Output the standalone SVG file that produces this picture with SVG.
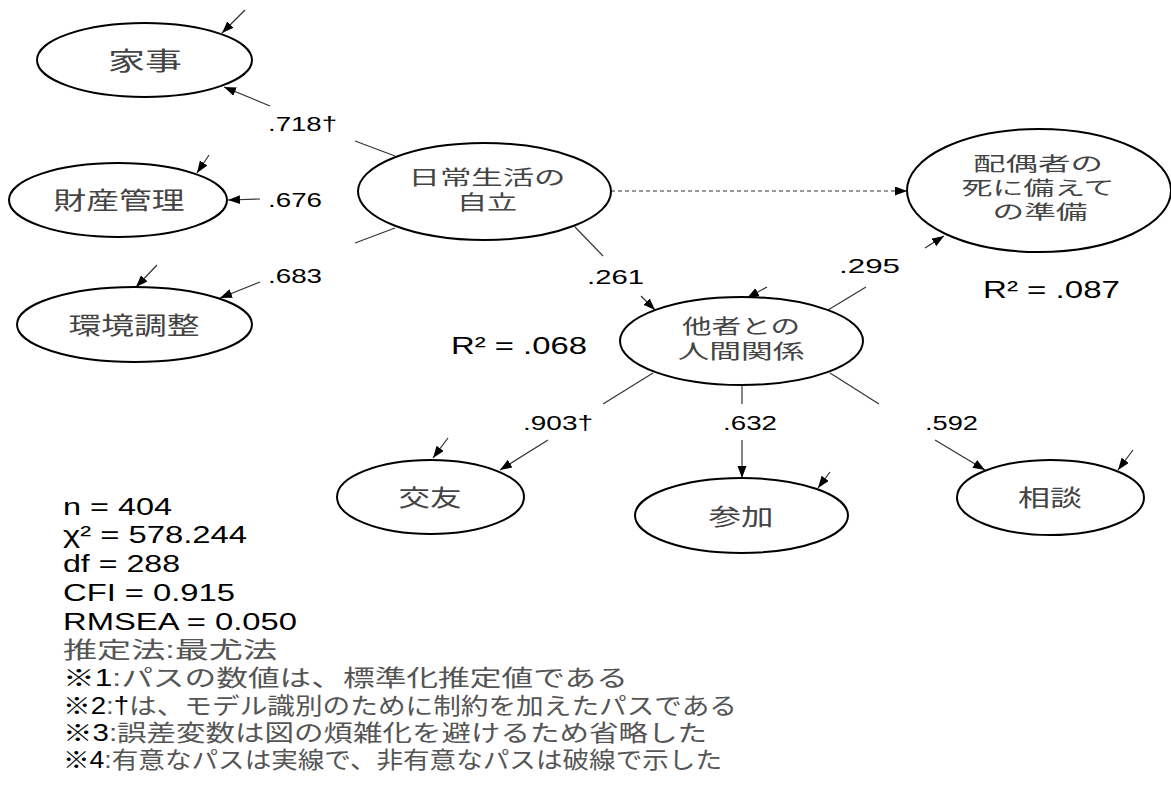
<svg xmlns="http://www.w3.org/2000/svg" width="1171" height="785" viewBox="0 0 1171 785">
<style>
.node ellipse{fill:#fff;stroke:#000;stroke-width:2}
.jp{font-family:"Liberation Sans","Noto Sans CJK JP",sans-serif;fill:#444;dominant-baseline:central;text-anchor:middle}
.num{font-family:"Liberation Sans",Arial,sans-serif;fill:#000}
.note{font-family:"Liberation Sans","Noto Sans CJK JP",sans-serif;font-size:23px;fill:#555}
.k{fill:#000}
#connectors line{stroke:#333;stroke-width:1.2;fill:none}
#connectors .arr{marker-end:url(#ah)}
#connectors .dash{stroke-dasharray:4 3}
</style>
<defs>
<marker id="ah" markerUnits="userSpaceOnUse" markerWidth="13" markerHeight="10" refX="12" refY="4.5" orient="auto">
<path d="M0,0 L12,4.5 L0,9 z" fill="#000"/>
</marker>
</defs>
<rect width="1171" height="785" fill="#fff"/>

<g id="connectors">
<line x1="395" y1="156" x2="355" y2="141"/>
<line class="arr" x1="270" y1="106" x2="224" y2="87"/>
<line x1="358" y1="192" x2="363" y2="192"/>
<line class="arr" x1="260" y1="199" x2="228" y2="200"/>
<line x1="395" y1="228" x2="355" y2="243"/>
<line class="arr" x1="260" y1="282" x2="220" y2="298"/>
<line x1="575" y1="227" x2="603" y2="256"/>
<line class="arr" x1="641" y1="296" x2="655" y2="310"/>
<line class="arr dash" x1="611" y1="191" x2="907" y2="191"/>
<line x1="828" y1="310" x2="866" y2="287"/>
<line class="arr" x1="925" y1="248" x2="944" y2="236"/>
<line x1="653" y1="373" x2="603" y2="404"/>
<line class="arr" x1="548" y1="440" x2="500" y2="470"/>
<line x1="742" y1="385" x2="742" y2="404"/>
<line class="arr" x1="742" y1="440" x2="742" y2="478"/>
<line x1="830" y1="373" x2="879" y2="404"/>
<line class="arr" x1="935" y1="440" x2="985" y2="470"/>
<line class="arr" x1="245" y1="10" x2="222" y2="33"/>
<line class="arr" x1="209" y1="155" x2="197" y2="173"/>
<line class="arr" x1="157" y1="265" x2="136" y2="287"/>
<line class="arr" x1="767" y1="287" x2="747" y2="298"/>
<line class="arr" x1="448" y1="438" x2="433" y2="458"/>
<line class="arr" x1="830" y1="472" x2="818" y2="488"/>
<line class="arr" x1="1133" y1="450" x2="1118" y2="470"/>
</g>

<g id="node-kaji" class="node">
<ellipse cx="144.5" cy="60" rx="107.5" ry="37"/>
<text class="jp" x="145" y="61" font-size="25" textLength="74" lengthAdjust="spacingAndGlyphs">家事</text>
</g>
<g id="node-zaisan" class="node">
<ellipse cx="118" cy="200" rx="109" ry="37"/>
<text class="jp" x="119" y="200" font-size="24" textLength="131" lengthAdjust="spacingAndGlyphs">財産管理</text>
</g>
<g id="node-kankyo" class="node">
<ellipse cx="134.5" cy="324.5" rx="117.5" ry="37.5"/>
<text class="jp" x="134" y="325" font-size="24" textLength="131" lengthAdjust="spacingAndGlyphs">環境調整</text>
</g>
<g id="node-jiritsu" class="node">
<ellipse cx="484.5" cy="191.5" rx="126.5" ry="48.5"/>
<text class="jp" font-size="20"><tspan x="487" y="178" textLength="157" lengthAdjust="spacingAndGlyphs">日常生活の</tspan><tspan x="487" y="203" textLength="60" lengthAdjust="spacingAndGlyphs">自立</tspan></text>
</g>
<g id="node-haiguusha" class="node">
<ellipse cx="1039" cy="190.5" rx="132" ry="61.5"/>
<text class="jp" font-size="19"><tspan x="1038" y="164" textLength="130" lengthAdjust="spacingAndGlyphs">配偶者の</tspan><tspan x="1038" y="188" textLength="153" lengthAdjust="spacingAndGlyphs">死に備えて</tspan><tspan x="1040" y="212" textLength="95" lengthAdjust="spacingAndGlyphs">の準備</tspan></text>
</g>
<g id="node-tasha" class="node">
<ellipse cx="741.5" cy="341" rx="121.5" ry="44"/>
<text class="jp" font-size="20"><tspan x="741" y="327" textLength="118" lengthAdjust="spacingAndGlyphs">他者との</tspan><tspan x="741" y="352" textLength="127" lengthAdjust="spacingAndGlyphs">人間関係</tspan></text>
</g>
<g id="node-kouyuu" class="node">
<ellipse cx="430.5" cy="497" rx="93.5" ry="37"/>
<text class="jp" x="430" y="498" font-size="23" textLength="63" lengthAdjust="spacingAndGlyphs">交友</text>
</g>
<g id="node-sanka" class="node">
<ellipse cx="741.5" cy="515.5" rx="106.5" ry="37.5"/>
<text class="jp" x="741" y="517" font-size="23" textLength="65" lengthAdjust="spacingAndGlyphs">参加</text>
</g>
<g id="node-soudan" class="node">
<ellipse cx="1050.5" cy="497.5" rx="93.5" ry="37.5"/>
<text class="jp" x="1050" y="498" font-size="23" textLength="64" lengthAdjust="spacingAndGlyphs">相談</text>
</g>

<g id="labels">
<text class="num" x="268" y="131" font-size="20" textLength="69" lengthAdjust="spacingAndGlyphs">.718†</text>
<text class="num" x="268" y="207" font-size="21" textLength="54" lengthAdjust="spacingAndGlyphs">.676</text>
<text class="num" x="268" y="283" font-size="21" textLength="54" lengthAdjust="spacingAndGlyphs">.683</text>
<text class="num" x="587" y="284" font-size="21" textLength="57" lengthAdjust="spacingAndGlyphs">.261</text>
<text class="num" x="451" y="354" font-size="23.5" textLength="136" lengthAdjust="spacingAndGlyphs">R² = .068</text>
<text class="num" x="839" y="273" font-size="21" textLength="61" lengthAdjust="spacingAndGlyphs">.295</text>
<text class="num" x="983" y="298" font-size="23.5" textLength="137" lengthAdjust="spacingAndGlyphs">R² = .087</text>
<text class="num" x="523" y="430" font-size="20" textLength="70" lengthAdjust="spacingAndGlyphs">.903†</text>
<text class="num" x="723" y="430" font-size="20" textLength="54" lengthAdjust="spacingAndGlyphs">.632</text>
<text class="num" x="925" y="430" font-size="20" textLength="53" lengthAdjust="spacingAndGlyphs">.592</text>
</g>

<g id="stats">
<text class="num" x="63" y="515" font-size="23.5" textLength="109" lengthAdjust="spacingAndGlyphs">n = 404</text>
<text class="num" x="63" y="543" font-size="23.5" textLength="184" lengthAdjust="spacingAndGlyphs">χ² = 578.244</text>
<text class="num" x="63" y="572" font-size="23.5" textLength="117" lengthAdjust="spacingAndGlyphs">df = 288</text>
<text class="num" x="63" y="601" font-size="23.5" textLength="172" lengthAdjust="spacingAndGlyphs">CFI = 0.915</text>
<text class="num" x="63" y="630" font-size="23.5" textLength="234" lengthAdjust="spacingAndGlyphs">RMSEA = 0.050</text>
<text class="note" x="63" y="658" textLength="214" lengthAdjust="spacingAndGlyphs">推定法:最尤法</text>
<text class="note" x="63" y="686" textLength="565" lengthAdjust="spacingAndGlyphs"><tspan class="k">※1</tspan>:パスの数値は、標準化推定値である</text>
<text class="note" x="63" y="714" textLength="674" lengthAdjust="spacingAndGlyphs"><tspan class="k">※2</tspan>:<tspan class="k">†</tspan>は、モデル識別のために制約を加えたパスである</text>
<text class="note" x="63" y="741" textLength="644" lengthAdjust="spacingAndGlyphs"><tspan class="k">※3</tspan>:誤差変数は図の煩雑化を避けるため省略した</text>
<text class="note" x="63" y="768" textLength="659" lengthAdjust="spacingAndGlyphs"><tspan class="k">※4</tspan>:有意なパスは実線で、非有意なパスは破線で示した</text>
</g>
</svg>
